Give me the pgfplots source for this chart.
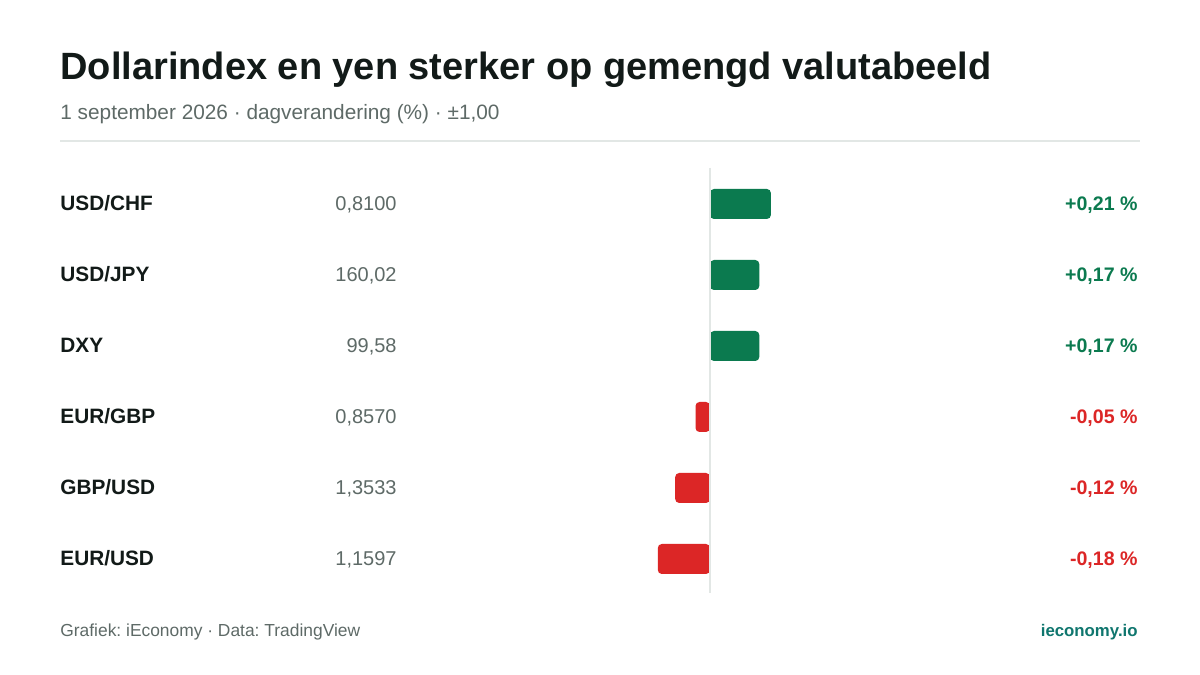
\documentclass[border=0pt]{standalone}
\usepackage{pgfplots}
\pgfplotsset{compat=1.18}
\usepackage{fontspec}
\setmainfont{Liberation Sans}
\frenchspacing

\definecolor{upgreen}{HTML}{0B7A4F}
\definecolor{downred}{HTML}{DC2626}
\definecolor{ink}{HTML}{121A18}
\definecolor{muted}{HTML}{5E6A67}
\definecolor{rulegray}{HTML}{E2E7E5}
\definecolor{brand}{HTML}{0F766E}

\begin{document}
\begin{tikzpicture}[x=0.5pt,y=0.5pt,
    pair/.style={anchor=base west, inner sep=0, yshift=-3.5pt, text=ink,
        font=\fontsize{10.4}{12}\selectfont\bfseries},
    quote/.style={anchor=base east, inner sep=0, yshift=-3.5pt, text=muted,
        font=\fontsize{10}{12}\selectfont},
    chg/.style={anchor=base east, inner sep=0, yshift=-3.5pt, text=#1,
        font=\fontsize{9.8}{12}\selectfont\bfseries}]
% canvas 1200 x 675 px, 1px = 0.5pt
\path[fill=white] (0,0) rectangle (1200,675);

\node[anchor=base west, inner sep=0, text=ink,
      font=\fontsize{19}{22}\selectfont\bfseries] at (60,595)
  {Dollarindex en yen sterker op gemengd valutabeeld};
\node[anchor=base west, inner sep=0, text=muted,
      font=\fontsize{10.4}{12}\selectfont] at (60,555)
  {1 september 2026 · dagverandering (\%) · ±1,00};
\draw[rulegray, line width=1pt] (60,534) -- (1140,534);

\begin{axis}[
    at={(210pt,41pt)}, anchor=south west,
    scale only axis, width=290pt, height=212.5pt,
    xmin=-1, xmax=1, ymin=-0.507, ymax=5.479,
    y dir=reverse, hide axis, clip=false,
    xbar, bar width=15pt, bar shift=0pt,
    every axis plot/.append style={draw=none, rounded corners=2pt},
]
\addplot[fill=upgreen] coordinates {(0.21,0) (0.17,1) (0.17,2)};
\addplot[fill=downred] coordinates {(-0.05,3) (-0.12,4) (-0.18,5)};
\draw[rulegray, line width=1.2pt] (axis cs:0,-0.507) -- (axis cs:0,5.479);

% pair names
\node[pair] at (axis cs:-2.2414,0) {USD/CHF};
\node[pair] at (axis cs:-2.2414,1) {USD/JPY};
\node[pair] at (axis cs:-2.2414,2) {DXY};
\node[pair] at (axis cs:-2.2414,3) {EUR/GBP};
\node[pair] at (axis cs:-2.2414,4) {GBP/USD};
\node[pair] at (axis cs:-2.2414,5) {EUR/USD};
% quotes
\node[quote] at (axis cs:-1.0793,0) {0,8100};
\node[quote] at (axis cs:-1.0793,1) {160,02};
\node[quote] at (axis cs:-1.0793,2) {99,58};
\node[quote] at (axis cs:-1.0793,3) {0,8570};
\node[quote] at (axis cs:-1.0793,4) {1,3533};
\node[quote] at (axis cs:-1.0793,5) {1,1597};
% changes
\node[chg=upgreen] at (axis cs:1.4759,0) {+0,21 \%};
\node[chg=upgreen] at (axis cs:1.4759,1) {+0,17 \%};
\node[chg=upgreen] at (axis cs:1.4759,2) {+0,17 \%};
\node[chg=downred] at (axis cs:1.4759,3) {-0,05 \%};
\node[chg=downred] at (axis cs:1.4759,4) {-0,12 \%};
\node[chg=downred] at (axis cs:1.4759,5) {-0,18 \%};
\end{axis}

\node[anchor=base west, inner sep=0, text=muted,
      font=\fontsize{8.7}{10}\selectfont] at (60,39)
  {Grafiek: iEconomy · Data: TradingView};
\node[anchor=base east, inner sep=0, text=brand,
      font=\fontsize{8.4}{10}\selectfont\bfseries] at (1138,39)
  {ieconomy.io};
\end{tikzpicture}
\end{document}
